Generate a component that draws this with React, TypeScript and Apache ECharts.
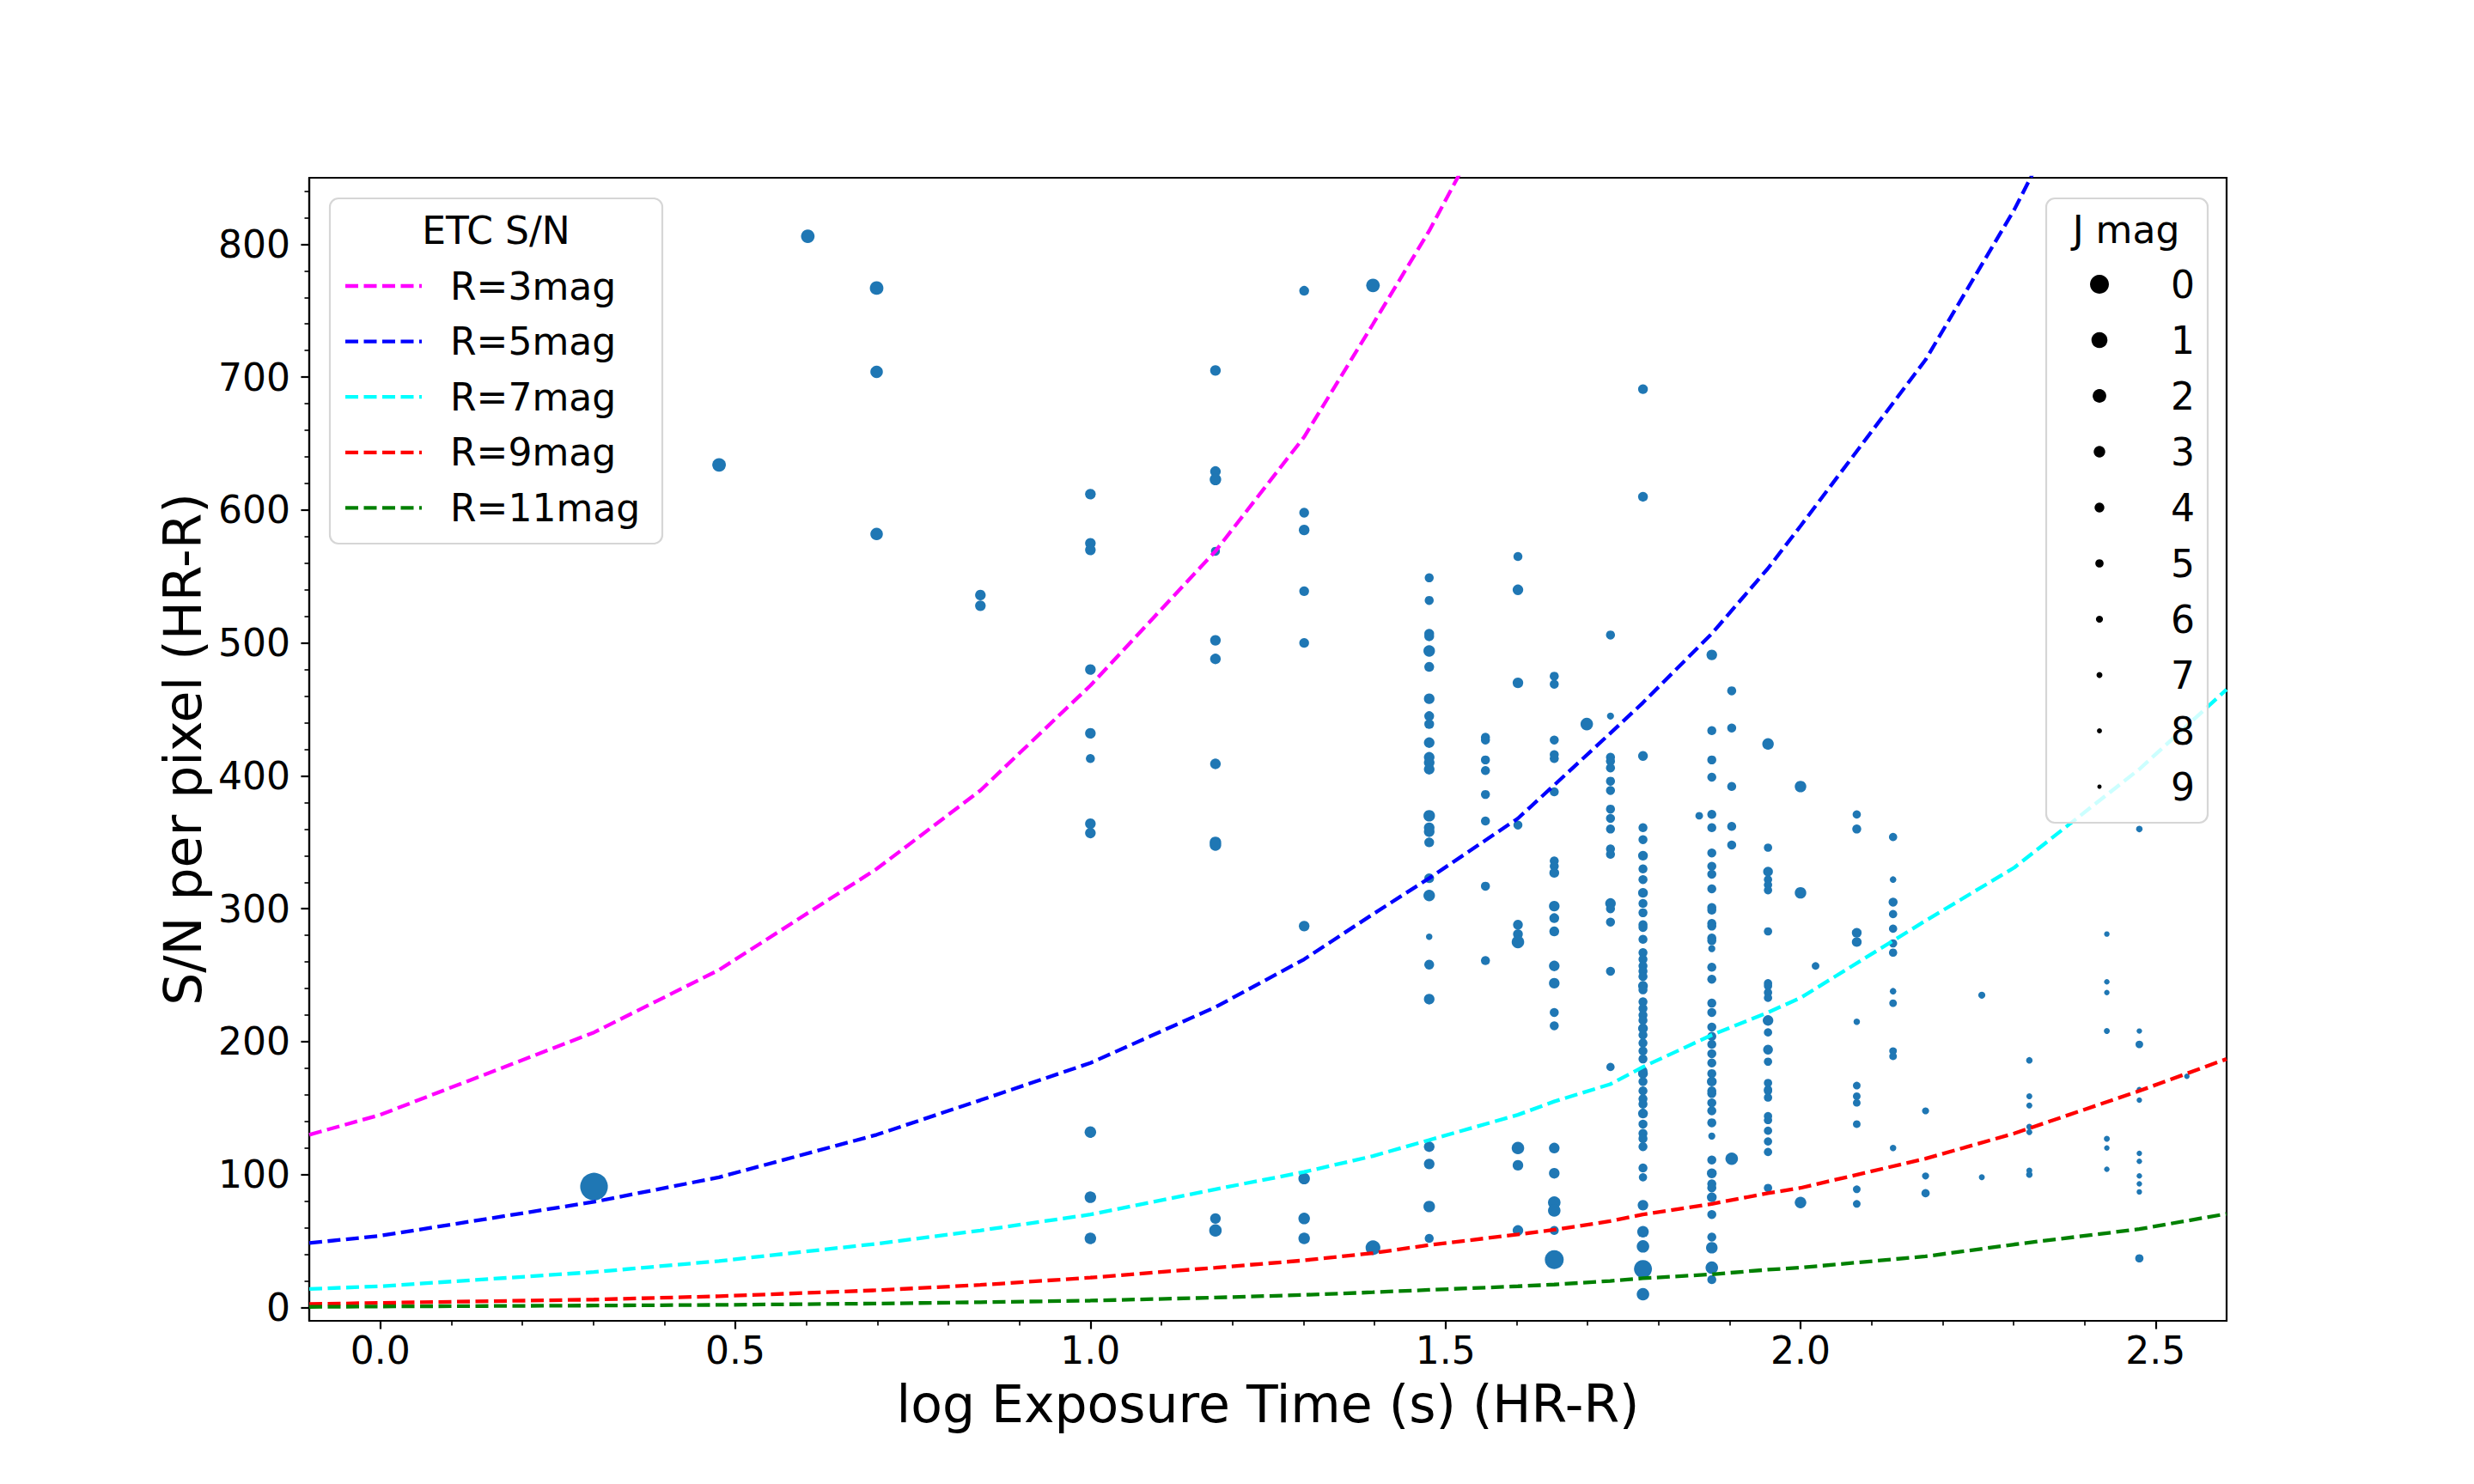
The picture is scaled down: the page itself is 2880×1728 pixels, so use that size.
import React, { useEffect, useRef } from "react";
import * as echarts from "echarts";

// ---------- data ----------
// exposure times (s) of the observed columns
const expTimes = [2, 3, 4, 5, 7, 10, 15, 20, 25, 30, 36, 40, 45, 50, 54, 60, 72, 75, 80, 90, 100, 105, 120, 135, 150, 180, 210, 270, 300, 350];

// measured S/N per pixel, one list per exposure time
const snByExp: number[][] = [
  [91],
  [634],
  [806],
  [767, 704, 582],
  [536, 528],
  [612, 575, 570, 480, 432, 413, 364, 357, 132, 83, 52],
  [705, 629, 623, 569, 502, 488, 409, 350, 348, 67, 58],
  [765, 598, 585, 539, 500, 287, 97, 67, 52],
  [769, 45],
  [549, 532, 507, 505, 494, 482, 458, 445, 439, 425, 414, 410, 405, 370, 361, 358, 350, 323, 310, 279, 258, 232, 121, 108, 76, 52],
  [429, 427, 412, 404, 386, 366, 317, 261],
  [565, 540, 470, 363, 288, 281, 275, 120, 107, 58],
  [475, 469, 427, 416, 413, 388, 336, 332, 327, 302, 293, 283, 257, 244, 222, 212, 120, 101, 79, 73, 58, 36],
  [439],
  [506, 445, 414, 411, 406, 396, 389, 375, 368, 360, 345, 341, 304, 300, 290, 253, 181],
  [691, 610, 415, 361, 352, 340, 330, 322, 312, 304, 297, 288, 286, 277, 267, 262, 257, 253, 249, 242, 239, 230, 225, 220, 216, 210, 205, 199, 193, 187, 178, 176, 170, 163, 157, 153, 146, 138, 131, 127, 121, 105, 98, 77, 57, 46, 29, 10],
  [370],
  [491, 434, 412, 399, 371, 361, 342, 332, 326, 315, 301, 299, 289, 287, 278, 276, 270, 256, 247, 229, 222, 211, 204, 198, 191, 184, 176, 170, 163, 161, 154, 148, 139, 129, 111, 101, 93, 90, 83, 70, 53, 45, 30, 21],
  [464, 436, 392, 362, 348, 112],
  [424, 346, 328, 322, 318, 314, 283, 244, 242, 237, 233, 216, 207, 194, 185, 169, 164, 163, 158, 144, 141, 133, 125, 117, 90],
  [392, 312, 79],
  [257],
  [371, 360, 282, 275, 215, 167, 159, 154, 138, 89, 78],
  [354, 322, 305, 296, 285, 274, 267, 238, 229, 193, 189, 120],
  [148, 99, 86],
  [235, 98],
  [186, 159, 152, 136, 132, 103, 100],
  [281, 245, 237, 208, 127, 120, 104],
  [360, 208, 198, 164, 156, 116, 110, 99, 93, 87, 37],
  [174],
];

// J magnitude of each star, same layout as snByExp
const jByExp: number[][] = [
  [-2.3],
  [2],
  [2],
  [2, 2.5, 2.5],
  [3.5, 3.5],
  [3.5, 3.5, 3.5, 3.5, 3.5, 4.5, 3.5, 3.5, 3, 3, 3],
  [3.5, 3.5, 3, 4.5, 3.5, 3.5, 3.5, 3, 3, 3.5, 2.5],
  [4, 4, 3.5, 4, 4, 3.5, 3, 3, 3],
  [2, 1.5],
  [4.5, 4.5, 4, 4, 3, 4, 3.5, 4, 4, 3.5, 3.5, 3.5, 3.5, 3, 3.5, 3.5, 4, 4, 3, 6.5, 4, 3.5, 3.5, 3.5, 3, 4.5],
  [4.5, 4.5, 4.5, 4.5, 4.5, 4.5, 4.5, 4.5],
  [4.5, 3.5, 3.5, 4.5, 4, 4, 2.5, 2.5, 3.5, 3.5],
  [4.5, 4.5, 4.5, 4.5, 4.5, 4.5, 4.5, 4.5, 4, 3.5, 4, 4, 3.5, 3.5, 4.5, 4.5, 3.5, 3.5, 2.5, 2.5, 4.5, 0],
  [2.5],
  [4.5, 6, 4.5, 4.5, 4.5, 4.5, 4.5, 4.5, 4.5, 4.5, 4.5, 4.5, 3.5, 4.5, 4.5, 4.5, 5],
  [4, 4, 4, 4.5, 4.5, 4, 4.5, 4.5, 4, 4.5, 4.5, 4.5, 4.5, 4.5, 4.5, 4.5, 4.5, 4.5, 4.5, 4, 4.5, 4.5, 4.5, 4.5, 4.5, 4, 4.5, 4.5, 4.5, 4.5, 4.5, 4, 4.5, 4.5, 4.5, 4.5, 4, 4.5, 4.5, 4.5, 4.5, 4.5, 5, 3.5, 3, 2.5, 0.3, 2.5],
  [5.5],
  [3.5, 4.5, 4.5, 4.5, 4.5, 4.5, 4.5, 4.5, 4.5, 4.5, 4.5, 4.5, 4.5, 4.5, 4.5, 4.5, 6, 4.5, 4.5, 4.5, 4.5, 4.5, 4.5, 4.5, 4.5, 4.5, 4.5, 4, 4.5, 4.5, 4.5, 4.5, 4.5, 6, 4.5, 4, 4.5, 4.5, 4, 4.5, 4.5, 3, 2.5, 4.5],
  [4.5, 4.5, 4.5, 4.5, 4.5, 2.5],
  [3, 5, 4, 5, 5, 5, 5, 5, 5, 5, 5, 3.5, 5, 4, 5, 5, 5, 5, 5, 5, 5, 5, 5, 5, 5],
  [3, 3, 3],
  [5.5],
  [5, 4.5, 4, 4, 6.5, 5.5, 5.5, 5.5, 5.5, 5.5, 5.5],
  [5, 6.5, 4.5, 5, 5, 5, 5, 6.5, 5.5, 5.5, 5.5, 6.5],
  [6, 6, 5],
  [6, 7],
  [6.5, 7, 7, 7, 7, 7, 6.5],
  [7.5, 7.5, 7.5, 7, 7, 7.5, 7.5],
  [6.5, 7.5, 5.5, 7.5, 7.5, 7.5, 7.5, 7.5, 7.5, 7.5, 5],
  [7.5],
];

// ETC predicted S/N curves (log exposure time grid)
const etcLogT = [-0.1, 0, 0.301, 0.477, 0.699, 0.845, 1.0, 1.176, 1.301, 1.398, 1.477, 1.602, 1.653, 1.732, 1.778, 1.875, 1.954, 2.0, 2.176, 2.301, 2.477, 2.6];
const etcR3 = [130, 145, 207, 254, 330, 389, 468, 569, 655, 740, 810, 935, null, null, null, null, null, null, null, null, null, null];
const etcR5 = [48.5, 54, 79.5, 98, 130, 156, 184, 226, 262, 296, 323, 368, 393, 432, 455, 507, 556, 588, 713, 826, 1010, null];
const etcR7 = [14, 16, 26.7, 35, 48, 58, 70, 89, 102, 114, 126, 145, 155, 168, 181, 205, 222, 233, 291, 331, 405, 465];
const etcR9 = [2.6, 3.5, 6, 8.5, 13, 17, 22.5, 30, 35.5, 41, 47, 55, 58.5, 65, 70, 78, 86, 90, 112, 131, 163, 187];
const etcR11 = [0.5, 0.8, 1.5, 2, 3, 4, 5.2, 7.5, 9.5, 11.5, 13.3, 16, 17.3, 20, 22, 25, 28.5, 30, 38.5, 47.5, 59, 70.5];
const etcSeries = [etcR3, etcR5, etcR7, etcR9, etcR11];
const etcLabels = ["R=3mag", "R=5mag", "R=7mag", "R=9mag", "R=11mag"];
const etcColors = ["#ff00ff", "#0000ff", "#00ffff", "#ff0000", "#008000"];

// ticks
const xMajorTicks = [0, 0.5, 1.0, 1.5, 2.0, 2.5];
const xMinorTicks = [0.1, 0.2, 0.3, 0.4, 0.6, 0.7, 0.8, 0.9, 1.1, 1.2, 1.3, 1.4, 1.6, 1.7, 1.8, 1.9, 2.1, 2.2, 2.3, 2.4];
const yMajorTicks = [0, 100, 200, 300, 400, 500, 600, 700, 800];
const yMinorTicks = [20, 40, 60, 80, 120, 140, 160, 180, 220, 240, 260, 280, 320, 340, 360, 380, 420, 440, 460, 480, 520, 540, 560, 580, 620, 640, 660, 680, 720, 740, 760, 780, 820, 840];
const jLegendMags = [0, 1, 2, 3, 4, 5, 6, 7, 8, 9];

// marker diameter (in 2880-px reference units) for a J magnitude
const sizeOf = (j: number) => 22 * Math.pow(0.848, j);

export default function App() {
  const ref = useRef<HTMLDivElement>(null);

  useEffect(() => {
    document.body.style.margin = "0";
    const el = ref.current as HTMLDivElement;
    const W = el.clientWidth || window.innerWidth;
    const s = W / 2880;
    const px = (v: number) => v * s;
    const font = "DejaVu Sans";
    const lw = 4.3;
    const dash = [px(15), px(6.5)];

    const scatterData: number[][] = [];
    expTimes.forEach((t, i) => {
      const lx = Math.log10(t);
      snByExp[i].forEach((sn, k) => {
        const j = jByExp[i][k] !== undefined ? jByExp[i][k] : 4.5;
        scatterData.push([lx, sn, j]);
      });
    });

    const lineSeries = etcSeries.map((vals, i) => ({
      type: "line",
      name: etcLabels[i],
      data: etcLogT.map((x, k) => [x, vals[k]]).filter((p) => p[1] !== null),
      symbol: "none",
      showSymbol: false,
      clip: true,
      z: 3,
      lineStyle: { color: etcColors[i], width: px(lw), type: dash, cap: "butt" },
      silent: true,
    }));

    const textStyle = (text: string, align: string) => ({
      text,
      fill: "#000",
      font: `${px(44)}px "${font}"`,
      textAlign: align,
      textVerticalAlign: "middle",
      verticalAlign: "middle",
    });

    const graphics: any[] = [];
    // ETC legend box
    graphics.push({
      type: "rect",
      shape: { x: px(384), y: px(231), width: px(387), height: px(402), r: px(10) },
      style: { fill: "rgba(255,255,255,0.8)", stroke: "#d6d6d6", lineWidth: px(2.2) },
      z: 10,
    });
    graphics.push({ type: "text", x: px(577.5), y: px(268), style: textStyle("ETC S/N", "center"), z: 11 });
    etcLabels.forEach((lab, i) => {
      const cy = px(333 + 64.6 * i);
      graphics.push({
        type: "line",
        shape: { x1: px(402), y1: cy, x2: px(491), y2: cy },
        style: { stroke: etcColors[i], lineWidth: px(lw), lineDash: dash },
        z: 11,
      });
      graphics.push({ type: "text", x: px(524), y: cy, style: textStyle(lab, "left"), z: 11 });
    });
    // J mag legend box
    graphics.push({
      type: "rect",
      shape: { x: px(2382), y: px(231), width: px(188), height: px(727), r: px(10) },
      style: { fill: "rgba(255,255,255,0.8)", stroke: "#d6d6d6", lineWidth: px(2.2) },
      z: 10,
    });
    graphics.push({ type: "text", x: px(2475), y: px(267), style: textStyle("J mag", "center"), z: 11 });
    jLegendMags.forEach((m, i) => {
      const cy = px(331 + 65 * i);
      graphics.push({
        type: "circle",
        shape: { cx: px(2444), cy, r: px(sizeOf(m) / 2) },
        style: { fill: "#000" },
        z: 11,
      });
      graphics.push({ type: "text", x: px(2527), y: cy, style: textStyle(String(m), "left"), z: 11 });
    });

    const option: any = {
      animation: false,
      backgroundColor: "#ffffff",
      grid: {
        left: px(360),
        right: px(288),
        top: px(207),
        bottom: px(190),
        show: true,
        borderColor: "#000",
        borderWidth: px(2.2),
        backgroundColor: "transparent",
        containLabel: false,
      },
      xAxis: [
        {
          type: "value",
          min: -0.1,
          max: 2.6,
          position: "bottom",
          name: "log Exposure Time (s) (HR-R)",
          nameLocation: "middle",
          nameGap: px(67),
          nameTextStyle: { fontFamily: font, fontSize: px(60), color: "#000" },
          axisLine: { show: true, onZero: false, lineStyle: { color: "#000", width: px(2.2) } },
          axisTick: { show: true, customValues: xMajorTicks, length: px(9.6), lineStyle: { color: "#000", width: px(2.2) } },
          axisLabel: {
            show: true,
            customValues: xMajorTicks,
            formatter: (v: number) => v.toFixed(1),
            fontFamily: font,
            fontSize: px(44),
            color: "#000",
            margin: px(12),
          },
          splitLine: { show: false },
        },
        {
          type: "value",
          min: -0.1,
          max: 2.6,
          position: "bottom",
          axisLine: { show: false, onZero: false },
          axisTick: { show: true, customValues: xMinorTicks, length: px(5.5), lineStyle: { color: "#000", width: px(1.65) } },
          axisLabel: { show: false },
          splitLine: { show: false },
        },
      ],
      yAxis: [
        {
          type: "value",
          min: -10,
          max: 850,
          position: "left",
          name: "S/N per pixel (HR-R)",
          nameLocation: "middle",
          nameGap: px(116),
          nameTextStyle: { fontFamily: font, fontSize: px(60), color: "#000" },
          axisLine: { show: true, onZero: false, lineStyle: { color: "#000", width: px(2.2) } },
          axisTick: { show: true, customValues: yMajorTicks, length: px(9.6), lineStyle: { color: "#000", width: px(2.2) } },
          axisLabel: {
            show: true,
            customValues: yMajorTicks,
            formatter: (v: number) => String(v),
            fontFamily: font,
            fontSize: px(44),
            color: "#000",
            margin: px(22),
          },
          splitLine: { show: false },
        },
        {
          type: "value",
          min: -10,
          max: 850,
          position: "left",
          axisLine: { show: false, onZero: false },
          axisTick: { show: true, customValues: yMinorTicks, length: px(5.5), lineStyle: { color: "#000", width: px(1.65) } },
          axisLabel: { show: false },
          splitLine: { show: false },
        },
      ],
      graphic: graphics,
      series: [
        {
          type: "scatter",
          name: "stars",
          data: scatterData,
          symbol: "circle",
          symbolSize: (v: number[]) => px(sizeOf(v[2])),
          itemStyle: { color: "#1f77b4", opacity: 1 },
          z: 2,
          silent: true,
        },
        ...lineSeries,
      ],
    };

    const chart = echarts.init(el, undefined, { renderer: "svg" });
    chart.setOption(option);
    return () => {
      chart.dispose();
    };
  }, []);

  return <div ref={ref} style={{ width: "100vw", height: "60vw" }} />;
}
